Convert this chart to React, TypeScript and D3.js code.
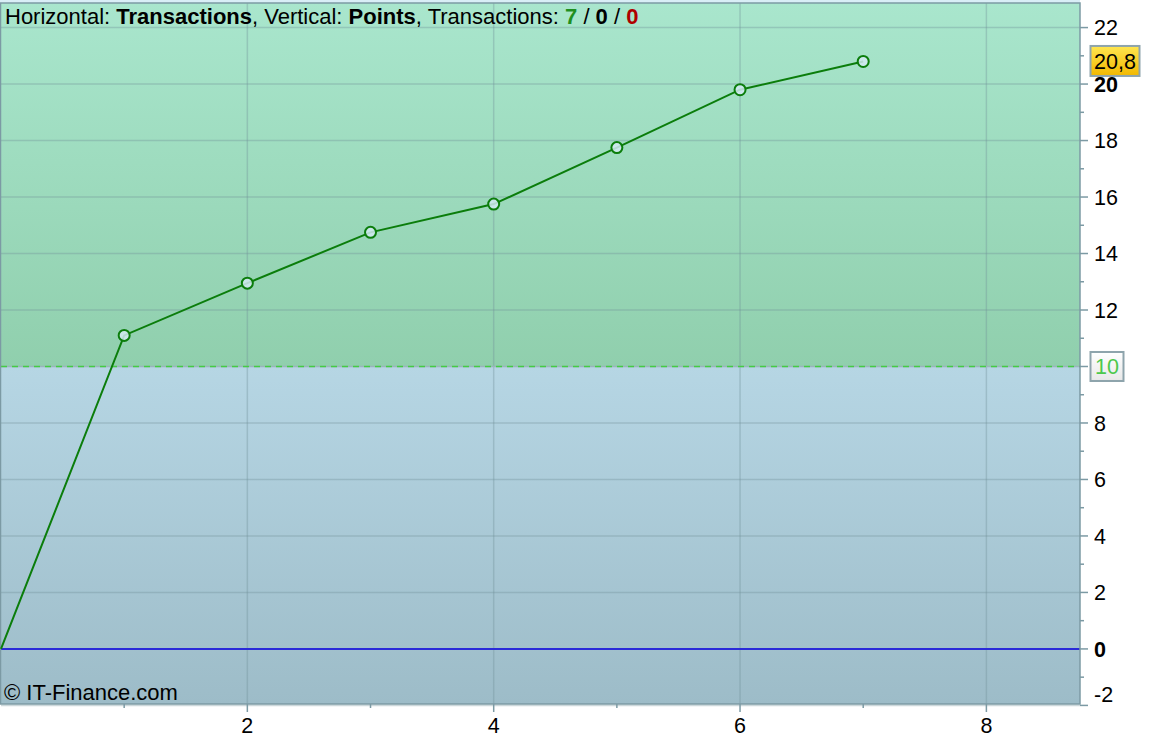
import React, { useEffect, useRef } from 'react';
import * as d3 from 'd3';

// transactions on x, cumulative points on y
const transactions = [0, 1, 2, 3, 4, 5, 6, 7];
const points = [0, 11.1, 12.95, 14.75, 15.75, 17.75, 19.8, 20.8];
const xTicks = [2, 4, 6, 8];
const xMinorTicks = [1, 3, 5, 7];
const yTicks = [-2, 0, 2, 4, 6, 8, 10, 12, 14, 16, 18, 20, 22];
const yMinorTicks = [-1, 1, 3, 5, 7, 9, 11, 13, 15, 17, 19, 21];
const threshold = 10;
const lastValueLabel = '20,8';

const W = 1176;
const H = 738;

const App: React.FC = () => {
  const svgRef = useRef<SVGSVGElement>(null);

  useEffect(() => {
    document.body.style.margin = '0';
    if (!svgRef.current) return;
    const svg = d3.select(svgRef.current);
    svg.selectAll('*').remove();

    const plot = { left: 1, right: 1080, top: 3, bottom: 704 };

    const x = d3.scaleLinear().domain([0, 8.76]).range([plot.left, plot.right]);
    const y = d3.scaleLinear().domain([-1.95, 22.87]).range([plot.bottom, plot.top]);

    const font = 'Liberation Sans, Arial, sans-serif';
    const fs = 21.5;

    const defs = svg.append('defs');
    const gTop = defs.append('linearGradient').attr('id', 'bg-top').attr('x1', 0).attr('y1', 0).attr('x2', 0).attr('y2', 1);
    gTop.append('stop').attr('offset', '0%').attr('stop-color', '#a9e6cd');
    gTop.append('stop').attr('offset', '100%').attr('stop-color', '#90cfad');
    const gBot = defs.append('linearGradient').attr('id', 'bg-bot').attr('x1', 0).attr('y1', 0).attr('x2', 0).attr('y2', 1);
    gBot.append('stop').attr('offset', '0%').attr('stop-color', '#b6d6e4');
    gBot.append('stop').attr('offset', '100%').attr('stop-color', '#9dbcc8');
    const gYel = defs.append('linearGradient').attr('id', 'bg-yel').attr('x1', 0).attr('y1', 0).attr('x2', 0).attr('y2', 1);
    gYel.append('stop').attr('offset', '0%').attr('stop-color', '#ffe650');
    gYel.append('stop').attr('offset', '100%').attr('stop-color', '#f2b800');
    const gWh = defs.append('linearGradient').attr('id', 'bg-wh').attr('x1', 0).attr('y1', 0).attr('x2', 0).attr('y2', 1);
    gWh.append('stop').attr('offset', '0%').attr('stop-color', '#ffffff');
    gWh.append('stop').attr('offset', '100%').attr('stop-color', '#e8e8e8');

    svg.append('rect').attr('width', W).attr('height', H).attr('fill', '#ffffff');
    svg.append('rect').attr('x', 0).attr('y', 0).attr('width', plot.right).attr('height', plot.top).attr('fill', '#d9eef6');

    // background zones
    svg.append('rect')
      .attr('x', plot.left).attr('y', plot.top)
      .attr('width', plot.right - plot.left).attr('height', y(threshold) - plot.top)
      .attr('fill', 'url(#bg-top)');
    svg.append('rect')
      .attr('x', plot.left).attr('y', y(threshold))
      .attr('width', plot.right - plot.left).attr('height', plot.bottom - y(threshold))
      .attr('fill', 'url(#bg-bot)');

    // grid
    const grid = svg.append('g').attr('stroke', '#6f8f98').attr('stroke-opacity', 0.35).attr('stroke-width', 1.5);
    xTicks.forEach(t => {
      grid.append('line').attr('x1', x(t)).attr('x2', x(t)).attr('y1', plot.top).attr('y2', plot.bottom);
    });
    yTicks.filter(t => t !== 0 && t !== threshold).forEach(t => {
      grid.append('line').attr('x1', plot.left).attr('x2', plot.right).attr('y1', y(t)).attr('y2', y(t));
    });

    // threshold and zero lines
    svg.append('line')
      .attr('x1', plot.left).attr('x2', plot.right).attr('y1', y(threshold)).attr('y2', y(threshold))
      .attr('stroke', '#9ab4bc').attr('stroke-width', 1.5);
    svg.append('line')
      .attr('x1', plot.left).attr('x2', plot.right).attr('y1', y(threshold)).attr('y2', y(threshold))
      .attr('stroke', '#44cc44').attr('stroke-width', 1.5).attr('stroke-dasharray', '6,5');
    svg.append('line')
      .attr('x1', plot.left).attr('x2', plot.right).attr('y1', y(0)).attr('y2', y(0))
      .attr('stroke', '#2a2ad8').attr('stroke-width', 2);

    // border
    svg.append('rect')
      .attr('x', plot.left - 0.5).attr('y', plot.top)
      .attr('width', plot.right - plot.left + 0.5).attr('height', plot.bottom - plot.top)
      .attr('fill', 'none').attr('stroke', '#7c9aa4').attr('stroke-width', 1.5);

    // right axis
    const ax = svg.append('g').attr('font-family', font).attr('font-size', fs).attr('fill', '#000');
    yTicks.forEach(t => {
      ax.append('line').attr('x1', plot.right).attr('x2', plot.right + 8).attr('y1', y(t)).attr('y2', y(t))
        .attr('stroke', '#7c9aa4').attr('stroke-width', 1.5);
      if (t === threshold) return;
      // keep the extreme labels inside the chart height
      const ty = Math.min(Math.max(y(t), 22), 694);
      ax.append('text').attr('x', plot.right + 14).attr('y', ty).attr('dy', '0.36em')
        .attr('font-weight', t === 0 || t === 20 ? 'bold' : 'normal')
        .text(t);
    });
    yMinorTicks.forEach(t => {
      ax.append('line').attr('x1', plot.right).attr('x2', plot.right + 4).attr('y1', y(t)).attr('y2', y(t))
        .attr('stroke', '#7c9aa4').attr('stroke-width', 1.5);
    });

    // bottom axis
    xTicks.forEach(t => {
      ax.append('line').attr('x1', x(t)).attr('x2', x(t)).attr('y1', plot.bottom).attr('y2', plot.bottom + 8)
        .attr('stroke', '#7c9aa4').attr('stroke-width', 1.5);
      ax.append('text').attr('x', x(t)).attr('y', 733).attr('text-anchor', 'middle').text(t);
    });
    xMinorTicks.forEach(t => {
      ax.append('line').attr('x1', x(t)).attr('x2', x(t)).attr('y1', plot.bottom).attr('y2', plot.bottom + 4)
        .attr('stroke', '#7c9aa4').attr('stroke-width', 1.5);
    });

    // threshold label
    const thY = y(threshold);
    svg.append('rect').attr('x', 1090.5).attr('y', thY - 14.5).attr('width', 33).attr('height', 29)
      .attr('fill', 'url(#bg-wh)').attr('stroke', '#8ea4ac').attr('stroke-width', 2);
    svg.append('text').attr('x', 1107).attr('y', thY).attr('dy', '0.36em').attr('text-anchor', 'middle')
      .attr('font-family', font).attr('font-size', fs).attr('fill', '#4cc84c').text(threshold);

    // series line
    const data = transactions.map((t, i) => [t, points[i]] as [number, number]);
    const line = d3.line<[number, number]>().x(d => x(d[0])).y(d => y(d[1]));
    svg.append('path').datum(data).attr('d', line)
      .attr('fill', 'none').attr('stroke', '#0b7d0b').attr('stroke-width', 2);
    svg.append('g').selectAll('circle').data(data.slice(1)).join('circle')
      .attr('cx', d => x(d[0])).attr('cy', d => y(d[1])).attr('r', 5.5)
      .attr('fill', '#d2eaf2').attr('fill-opacity', 0.85)
      .attr('stroke', '#0b7d0b').attr('stroke-width', 2);

    // last value label
    const lvY = y(points[points.length - 1]);
    svg.append('rect').attr('x', 1090.5).attr('y', lvY - 15.5).attr('width', 49).attr('height', 30)
      .attr('fill', 'url(#bg-yel)').attr('stroke', '#8ea4ac').attr('stroke-width', 2);
    svg.append('text').attr('x', 1115).attr('y', lvY).attr('dy', '0.36em').attr('text-anchor', 'middle')
      .attr('font-family', font).attr('font-size', fs).attr('fill', '#000').text(lastValueLabel);

    // title
    const title = svg.append('text').attr('x', 5).attr('y', 24)
      .attr('font-family', font).attr('font-size', 22).attr('fill', '#000');
    title.append('tspan').text('Horizontal: ');
    title.append('tspan').attr('font-weight', 'bold').text('Transactions');
    title.append('tspan').text(', Vertical: ');
    title.append('tspan').attr('font-weight', 'bold').text('Points');
    title.append('tspan').text(', Transactions: ');
    title.append('tspan').attr('font-weight', 'bold').attr('fill', '#1f8f1f').text('7');
    title.append('tspan').text(' / ');
    title.append('tspan').attr('font-weight', 'bold').text('0');
    title.append('tspan').text(' / ');
    title.append('tspan').attr('font-weight', 'bold').attr('fill', '#b00000').text('0');

    // copyright
    svg.append('text').attr('x', 4).attr('y', 700)
      .attr('font-family', font).attr('font-size', 22).attr('fill', '#000')
      .text('© IT-Finance.com');
  }, []);

  return <svg ref={svgRef} width={W} height={H} style={{ display: 'block' }} />;
};

export default App;
